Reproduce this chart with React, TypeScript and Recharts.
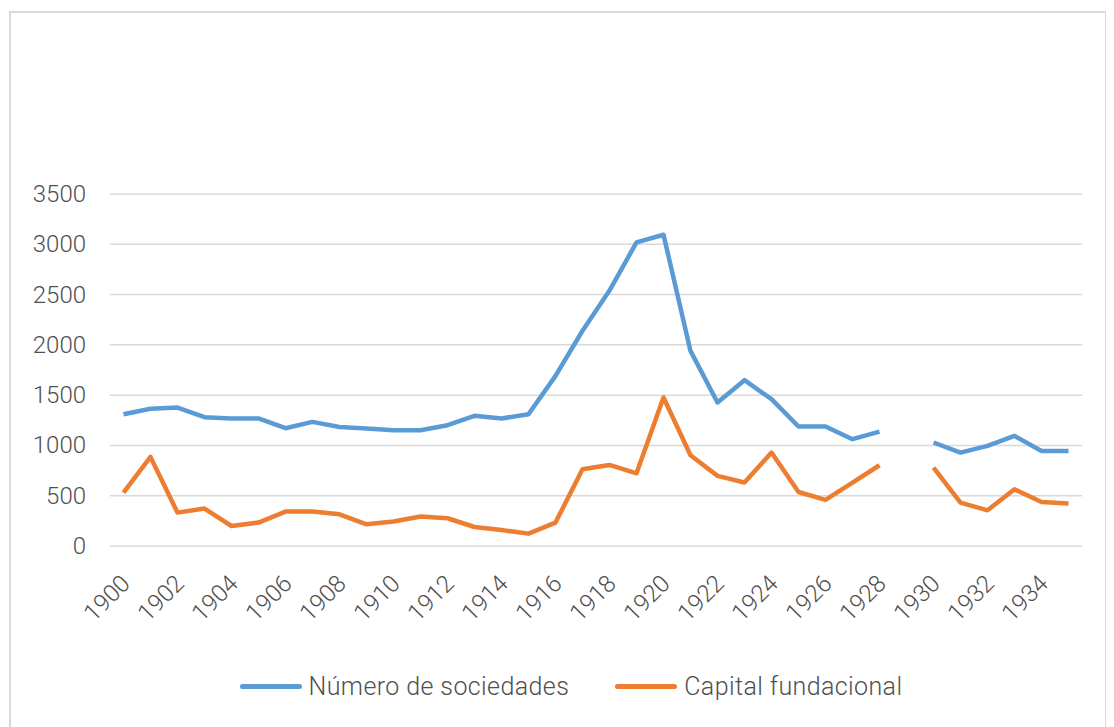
import { LineChart, Line, XAxis, YAxis, CartesianGrid, Legend } from 'recharts'

const years = [
    '1900', '1901', '1902', '1903', '1904', '1905', '1906', '1907', '1908', '1909',
    '1910', '1911', '1912', '1913', '1914', '1915', '1916', '1917', '1918', '1919',
    '1920', '1921', '1922', '1923', '1924', '1925', '1926', '1927', '1928', '1929',
    '1930', '1931', '1932', '1933', '1934', '1935',
]

// Número de sociedades (1929 missing)
const sociedades = [
    1310, 1365, 1377, 1281, 1268, 1268, 1171, 1234, 1184, 1168,
    1151, 1151, 1201, 1294, 1268, 1310, 1692, 2140, 2540, 3019,
    3095, 1940, 1427, 1649, 1460, 1188, 1188, 1062, 1138, null,
    1029, 929, 995, 1095, 945, 945,
]

// Capital fundacional (1929 missing)
const capital = [
    531, 886, 332, 372, 199, 233, 342, 342, 315, 216,
    243, 293, 276, 189, 159, 123, 233, 763, 806, 723,
    1477, 903, 697, 631, 929, 537, 458, 631, 803, null,
    780, 432, 355, 564, 438, 422,
]

const yTicks = [0, 500, 1000, 1500, 2000, 2500, 3000, 3500]

const BLUE = '#5b9bd5'
const ORANGE = '#ed7d31'
const FONT = 'Roboto, sans-serif'
const TEXT = '#4f4f4f'

const data = years.map((year, i) => ({
    year,
    sociedades: sociedades[i],
    capital: capital[i],
}))

function YearTick({ x, y, payload }: any) {
    const ax = x + 8
    const ay = y + 31
    return (
        <text
            x={ax}
            y={ay}
            transform={`rotate(-45, ${ax}, ${ay})`}
            textAnchor="end"
            fill={TEXT}
            fontSize={24}
            fontWeight={300}
            fontFamily={FONT}
        >
            {payload.value}
        </text>
    )
}

function ValueTick({ x, y, payload }: any) {
    return (
        <text x={x - 16} y={y} dy={8} textAnchor="end" fill={TEXT} fontSize={24} fontWeight={300} fontFamily={FONT}>
            {payload.value}
        </text>
    )
}

function LegendContent() {
    const items = [
        { name: 'Número de sociedades', color: BLUE },
        { name: 'Capital fundacional', color: ORANGE },
    ]
    return (
        <div style={{ display: 'flex', justifyContent: 'center', alignItems: 'center', gap: 46, paddingLeft: 30 }}>
            {items.map(item => (
                <div key={item.name} style={{ display: 'flex', alignItems: 'center' }}>
                    <span style={{ display: 'inline-block', width: 62, height: 5, borderRadius: 3, background: item.color, marginRight: 7 }} />
                    <span style={{ fontFamily: FONT, fontSize: 25, fontWeight: 300, letterSpacing: 0.4, color: TEXT }}>{item.name}</span>
                </div>
            ))}
        </div>
    )
}

export default function App() {
    return (
        <div style={{ marginLeft: 1, marginTop: 3, width: 1094, height: 730, border: '2px solid #d9d9d9', background: '#fff' }}>
            <LineChart
                width={1090}
                height={720}
                data={data}
                margin={{ top: 181, right: 19, bottom: 5, left: 19 }}
            >
                <CartesianGrid vertical={false} stroke="#d9d9d9" strokeWidth={1.5} />
                <XAxis
                    dataKey="year"
                    interval={1}
                    padding={{ left: 13.5, right: 13.5 }}
                    axisLine={false}
                    tickLine={false}
                    height={126}
                    tick={<YearTick />}
                />
                <YAxis
                    width={80}
                    domain={[0, 3500]}
                    ticks={yTicks}
                    axisLine={false}
                    tickLine={false}
                    tick={<ValueTick />}
                />
                <Legend verticalAlign="bottom" height={56} content={<LegendContent />} />
                <Line
                    dataKey="sociedades"
                    name="Número de sociedades"
                    stroke={BLUE}
                    strokeWidth={4.5}
                    dot={false}
                    strokeLinejoin="round"
                    isAnimationActive={false}
                />
                <Line
                    dataKey="capital"
                    name="Capital fundacional"
                    stroke={ORANGE}
                    strokeWidth={4.5}
                    dot={false}
                    strokeLinejoin="round"
                    isAnimationActive={false}
                />
            </LineChart>
        </div>
    )
}
